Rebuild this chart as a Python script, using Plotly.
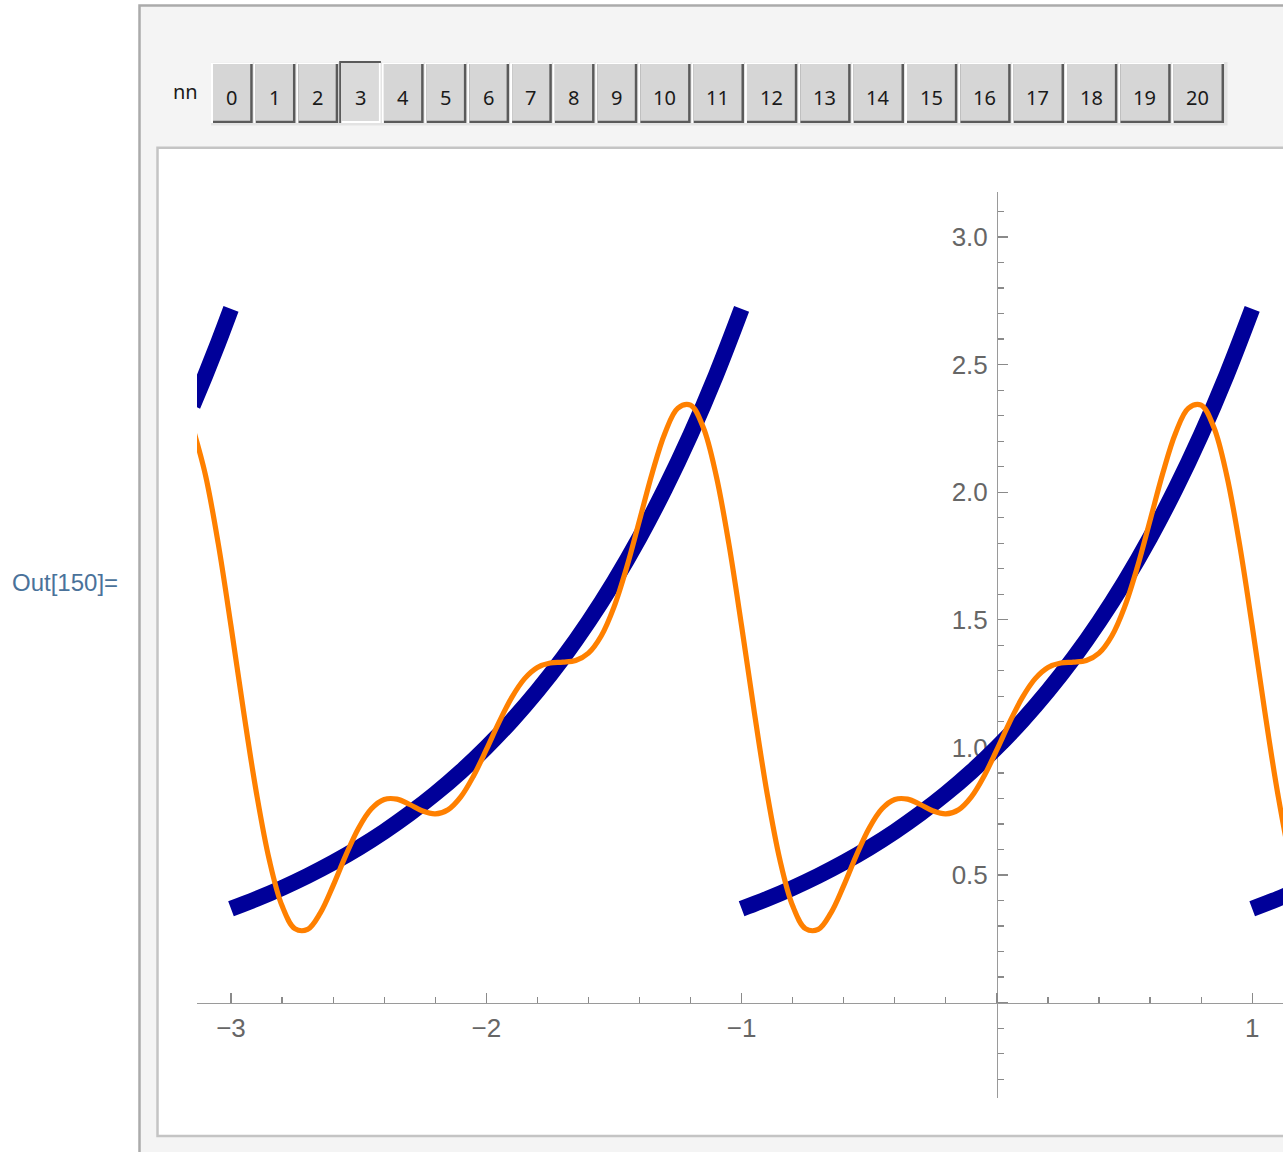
import plotly.graph_objects as go

W, H = 1283, 1152

# ---------------- data ----------------
nn_values = list(range(21))
nn_selected = 3

x_ticks = [-3, -2, -1, 0, 1]
x_tick_text = ["\u22123", "\u22122", "\u22121", "", "1"]
y_ticks = [0, 0.5, 1.0, 1.5, 2.0, 2.5, 3.0]
y_tick_text = ["", "0.5", "1.0", "1.5", "2.0", "2.5", "3.0"]

# thick blue periodic curve, one list per visible piece
blue_x_a = [-3.15, -3.10, -3.05, -3.00]
blue_y_a = [2.3396, 2.4596, 2.5857, 2.7183]

blue_x_b = [-3.0, -2.9, -2.8, -2.7, -2.6, -2.5, -2.4, -2.3, -2.2, -2.1, -2.0,
            -1.9, -1.8, -1.7, -1.6, -1.5, -1.4, -1.3, -1.2, -1.1, -1.0]
blue_y_b = [0.3679, 0.4066, 0.4493, 0.4966, 0.5488, 0.6065, 0.6703, 0.7408, 0.8187, 0.9048, 1.0,
            1.1052, 1.2214, 1.3499, 1.4918, 1.6487, 1.8221, 2.0138, 2.2255, 2.4596, 2.7183]

blue_x_c = [-1.0, -0.9, -0.8, -0.7, -0.6, -0.5, -0.4, -0.3, -0.2, -0.1, 0.0,
            0.1, 0.2, 0.3, 0.4, 0.5, 0.6, 0.7, 0.8, 0.9, 1.0]
blue_y_c = [0.3679, 0.4066, 0.4493, 0.4966, 0.5488, 0.6065, 0.6703, 0.7408, 0.8187, 0.9048, 1.0,
            1.1052, 1.2214, 1.3499, 1.4918, 1.6487, 1.8221, 2.0138, 2.2255, 2.4596, 2.7183]

blue_x_d = [1.0, 1.1, 1.2]
blue_y_d = [0.3679, 0.4066, 0.4493]

# orange partial-sum curve
orange_x = [-3.15, -3.10, -3.05, -3.00, -2.95, -2.90, -2.85, -2.80, -2.75, -2.70,
            -2.65, -2.60, -2.55, -2.50, -2.45, -2.40, -2.35, -2.30, -2.25, -2.20,
            -2.15, -2.10, -2.05, -2.00, -1.95, -1.90, -1.85, -1.80, -1.75, -1.70,
            -1.65, -1.60, -1.55, -1.50, -1.45, -1.40, -1.35, -1.30, -1.25, -1.20,
            -1.15, -1.10, -1.05, -1.00, -0.95, -0.90, -0.85, -0.80, -0.75, -0.70,
            -0.65, -0.60, -0.55, -0.50, -0.45, -0.40, -0.35, -0.30, -0.25, -0.20,
            -0.15, -0.10, -0.05, 0.00, 0.05, 0.10, 0.15, 0.20, 0.25, 0.30,
            0.35, 0.40, 0.45, 0.50, 0.55, 0.60, 0.65, 0.70, 0.75, 0.80,
            0.85, 0.90, 0.95, 1.00, 1.05, 1.10, 1.15, 1.20]
orange_y = [2.2532, 2.0671, 1.7983, 1.4757, 1.1363, 0.8193, 0.5590, 0.3792, 0.2900, 0.2867,
            0.3515, 0.4583, 0.5780, 0.6844, 0.7595, 0.7959, 0.7972, 0.7762, 0.7509, 0.7394,
            0.7558, 0.8062, 0.8881, 0.9909, 1.0990, 1.1961, 1.2694, 1.3131, 1.3307, 1.3338,
            1.3403, 1.3692, 1.4365, 1.5498, 1.7059, 1.8894, 2.0753, 2.2322, 2.3292, 2.3408,
            2.2532, 2.0671, 1.7983, 1.4757, 1.1363, 0.8193, 0.5590, 0.3792, 0.2900, 0.2867,
            0.3515, 0.4583, 0.5780, 0.6844, 0.7595, 0.7959, 0.7972, 0.7762, 0.7509, 0.7394,
            0.7558, 0.8062, 0.8881, 0.9909, 1.0990, 1.1961, 1.2694, 1.3131, 1.3307, 1.3338,
            1.3403, 1.3692, 1.4365, 1.5498, 1.7059, 1.8894, 2.0753, 2.2322, 2.3292, 2.3408,
            2.2532, 2.0671, 1.7983, 1.4757, 1.1363, 0.8193, 0.5590, 0.3792]

# ---------------- helpers ----------------
def PX(x):
    return x / W

def PY(y):
    return 1 - y / H

def rect(x0, y0, x1, y1, fill, line_color=None, line_width=0):
    return dict(type="rect", xref="paper", yref="paper", layer="below",
                x0=PX(x0), x1=PX(x1), y0=PY(y1), y1=PY(y0),
                fillcolor=fill,
                line=dict(color=line_color or fill, width=line_width))

# ---------------- traces ----------------
blue_x = blue_x_a + [None] + blue_x_b + [None] + blue_x_c + [None] + blue_x_d
blue_y = blue_y_a + [None] + blue_y_b + [None] + blue_y_c + [None] + blue_y_d

fig = go.Figure()
fig.add_trace(go.Scatter(x=blue_x, y=blue_y, mode="lines", connectgaps=False,
                         line=dict(color="#000099", width=16, shape="spline"),
                         hoverinfo="skip"))
fig.add_trace(go.Scatter(x=orange_x, y=orange_y, mode="lines",
                         line=dict(color="#FF8000", width=5.2, shape="spline"),
                         hoverinfo="skip"))

# ---------------- frame (Manipulate panel) ----------------
shapes = []
shapes.append(rect(139.5, 5.5, 1320, 1170, "#f4f4f4", "#ababab", 2.5))
shapes.append(rect(157.5, 147.8, 1320, 1136, "#ffffff", "#c4c4c4", 2.5))

# button row
single_pitch = 42.73
double_pitch = 53.34
starts = []
pitches = []
for v in nn_values:
    if v <= 10:
        starts.append(211.0 + v * single_pitch)
    else:
        starts.append(211.0 + 10 * single_pitch + (v - 10) * double_pitch)
    pitches.append(single_pitch if v < 10 else double_pitch)

row_end = starts[-1] + pitches[-1]
shapes.append(rect(starts[0], 62.0, row_end + 2.5, 125.5, "#e3e3e3"))

annotations = []
for v, s, p in zip(nn_values, starts, pitches):
    if v == nn_selected:
        shapes.append(rect(s, 61.0, s + p - 1, 123.0, "#5a5a5a"))
        shapes.append(rect(s + 2, 63.0, s + p - 1, 123.0, "#ffffff"))
        shapes.append(rect(s + 2, 63.0, s + p - 3, 121.0, "#dadada"))
    else:
        shapes.append(rect(s, 62.5, s + p - 1, 123.0, "#ffffff"))
        shapes.append(rect(s + 2, 64.0, s + p - 1, 123.0, "#5a5a5a"))
        shapes.append(rect(s + 2, 64.0, s + p - 3.5, 120.7, "#d6d6d6"))
    annotations.append(dict(xref="paper", yref="paper", x=PX(s + p / 2 - 0.5), y=PY(98.0),
                            text=str(v), showarrow=False, xanchor="center", yanchor="middle",
                            font=dict(family="Noto Sans", size=20, color="#1a1a1a")))

annotations.append(dict(xref="paper", yref="paper", x=PX(185), y=PY(91),
                        text="nn", showarrow=False, xanchor="center", yanchor="middle",
                        font=dict(family="Noto Sans", size=20, color="#1a1a1a")))
annotations.append(dict(xref="paper", yref="paper", x=PX(65), y=PY(582),
                        text="Out[150]=", showarrow=False, xanchor="center", yanchor="middle",
                        font=dict(family="Liberation Sans", size=24, color="#4a729a")))

# ---------------- axes ----------------
tick_font = dict(family="Liberation Sans, Arial", size=26, color="#666666")

x_left_px, x_right_px = 197.0, 1283.0
px_per_unit_x = 255.3
x0_val = -3 - (231.0 - x_left_px) / px_per_unit_x
x1_val = -3 + (x_right_px - 231.0) / px_per_unit_x

y_top_px, y_bot_px = 192.0, 1098.0
px_per_unit_y = 255.2
y_zero_px = 1002.6
y1_val = (y_zero_px - y_top_px) / px_per_unit_y
y0_val = (y_zero_px - y_bot_px) / px_per_unit_y

fig.update_layout(
    width=W, height=H, autosize=False,
    margin=dict(l=0, r=0, t=0, b=0, pad=0),
    paper_bgcolor="#ffffff", plot_bgcolor="rgba(0,0,0,0)",
    showlegend=False,
    shapes=shapes,
    annotations=annotations,
    xaxis=dict(domain=[PX(x_left_px), 1.0], range=[x0_val, x1_val],
               anchor="free", position=PY(y_zero_px),
               showline=True, linecolor="#9a9a9a", linewidth=1.2,
               showgrid=False, zeroline=False,
               ticks="inside", ticklen=10, tickwidth=1.2, tickcolor="#8a8a8a",
               tickmode="array", tickvals=x_ticks, ticktext=x_tick_text,
               tickfont=tick_font, ticklabelstandoff=2,
               minor=dict(ticks="inside", ticklen=6, tickwidth=1.2, tickcolor="#8a8a8a",
                          tickmode="linear", tick0=0, dtick=0.2, showgrid=False),
               layer="below traces", fixedrange=True),
    yaxis=dict(domain=[PY(y_bot_px), PY(y_top_px)], range=[y0_val, y1_val],
               anchor="free", position=PX(997.0),
               showline=True, linecolor="#9a9a9a", linewidth=1.2,
               showgrid=False, zeroline=False,
               ticks="inside", ticklen=10, tickwidth=1.2, tickcolor="#8a8a8a",
               tickmode="array", tickvals=y_ticks, ticktext=y_tick_text,
               tickfont=tick_font, ticklabelstandoff=4,
               minor=dict(ticks="inside", ticklen=6, tickwidth=1.2, tickcolor="#8a8a8a",
                          tickmode="linear", tick0=0, dtick=0.1, showgrid=False),
               layer="below traces", fixedrange=True),
)

fig.write_html("out.html", config={"displayModeBar": False, "staticPlot": True},
               post_script="document.body.style.margin='0';document.body.style.overflow='hidden';")
